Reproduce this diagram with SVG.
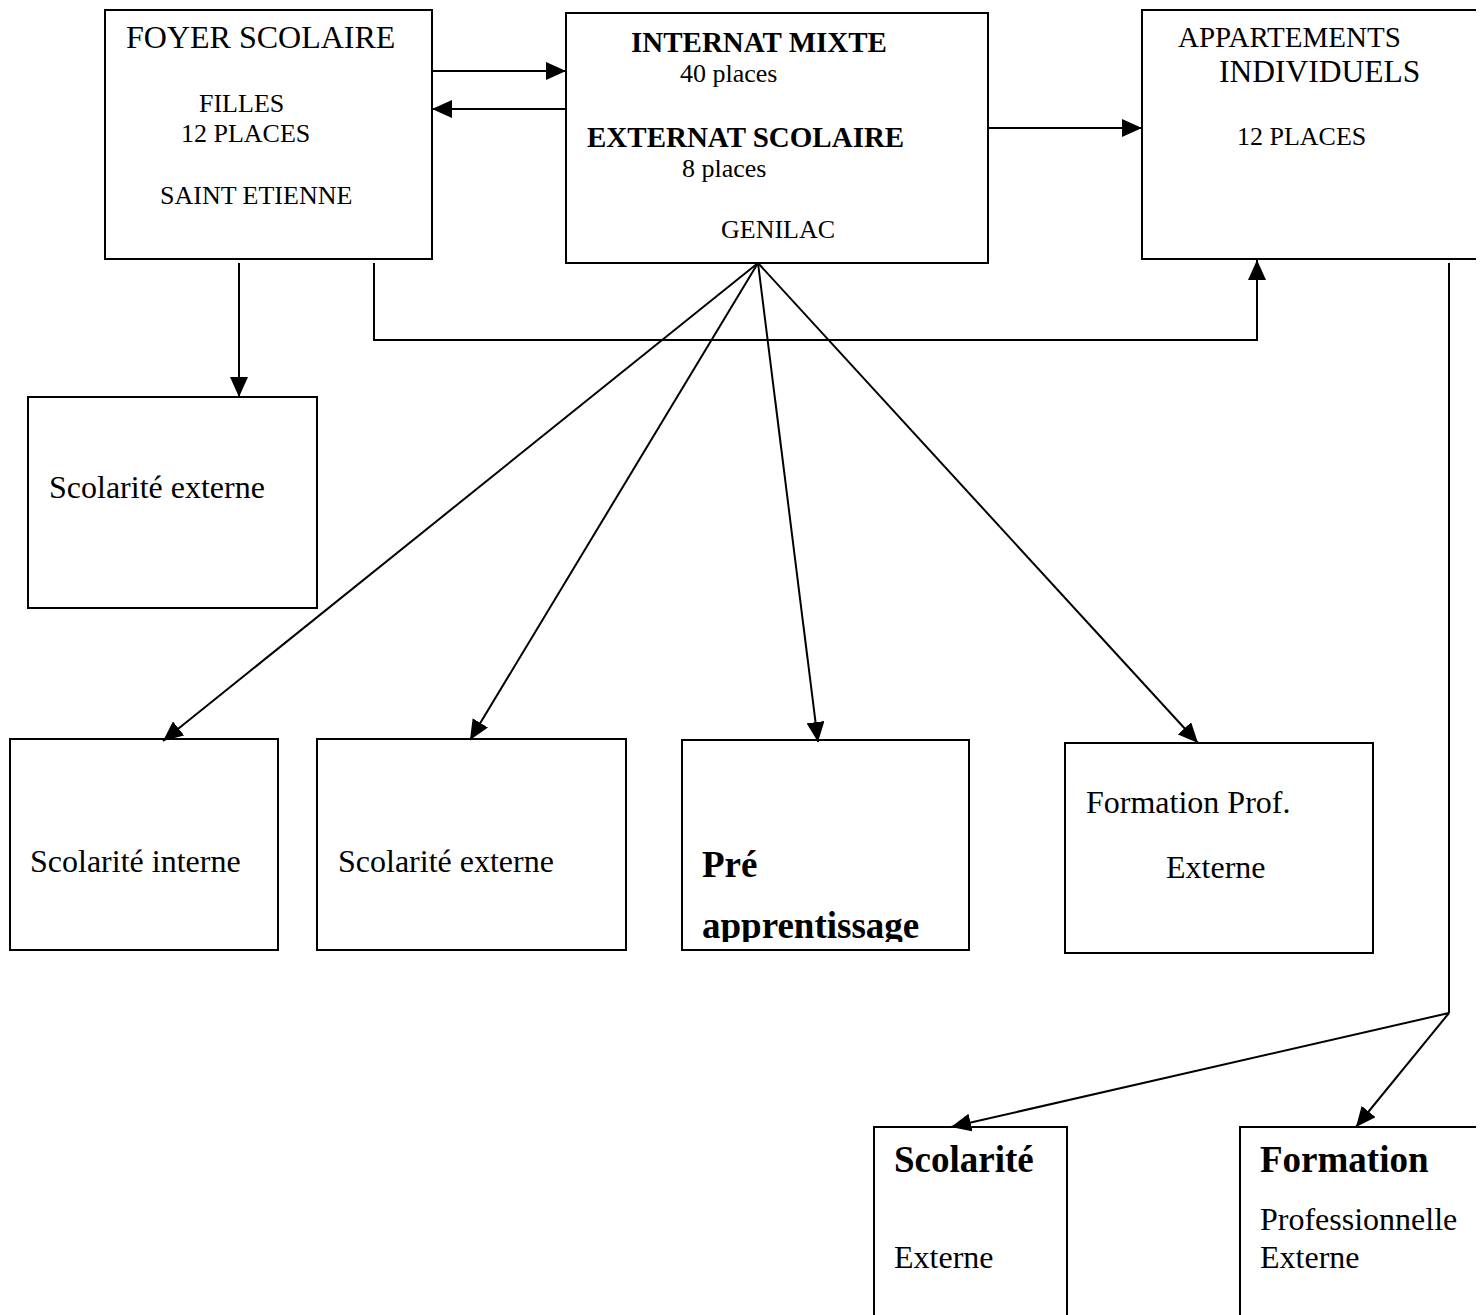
<svg xmlns="http://www.w3.org/2000/svg" width="1484" height="1315" viewBox="0 0 1484 1315">
<style>
.box{fill:#fff;stroke:#000;stroke-width:2}
.edge{fill:none;stroke:#000;stroke-width:2}
text{font-family:"Liberation Serif","Times New Roman",serif;fill:#000}
.s26{font-size:26px}
.s32{font-size:32px}
.b29{font-size:29px;font-weight:bold}
.b37{font-size:37px;font-weight:bold}
</style>
<defs>
<marker id="arr" markerUnits="userSpaceOnUse" viewBox="0 0 20 18" refX="20" refY="9" markerWidth="20" markerHeight="18" orient="auto">
<path d="M0,0 L20,9 L0,18 z" fill="#000"/>
</marker>
<clipPath id="clipPre"><rect x="682" y="740" width="287" height="202"/></clipPath>
</defs>
<rect width="1484" height="1315" fill="#fff"/>

<g id="foyer">
<rect class="box" x="105" y="10" width="327" height="249"/>
<text class="s32" x="126" y="48">FOYER SCOLAIRE</text>
<text class="s26" x="199" y="112">FILLES</text>
<text class="s26" x="181" y="142">12 PLACES</text>
<text class="s26" x="160" y="204">SAINT ETIENNE</text>
</g>

<g id="internat">
<rect class="box" x="566" y="13" width="422" height="250"/>
<text class="b29" x="631" y="52">INTERNAT MIXTE</text>
<text class="s26" x="680" y="82">40 places</text>
<text class="b29" x="587" y="147">EXTERNAT SCOLAIRE</text>
<text class="s26" x="682" y="177">8 places</text>
<text class="s26" x="721" y="238">GENILAC</text>
</g>

<g id="appartements">
<path class="edge" d="M1476,10 L1142,10 L1142,259 L1476,259"/>
<text style="font-size:29px" x="1178" y="47">APPARTEMENTS</text>
<text style="font-size:31.5px" x="1219" y="82">INDIVIDUELS</text>
<text class="s26" x="1237" y="145">12 PLACES</text>
</g>

<g id="scol-externe-foyer">
<rect class="box" x="28" y="397" width="289" height="211"/>
<text class="s32" x="49" y="498">Scolarité externe</text>
</g>

<g id="scol-interne">
<rect class="box" x="10" y="739" width="268" height="211"/>
<text class="s32" x="30" y="872">Scolarité interne</text>
</g>

<g id="scol-externe">
<rect class="box" x="317" y="739" width="309" height="211"/>
<text class="s32" x="338" y="872">Scolarité externe</text>
</g>

<g id="pre-apprentissage">
<rect class="box" x="682" y="740" width="287" height="210"/>
<g clip-path="url(#clipPre)">
<text class="b37" x="702" y="877">Pré</text>
<text class="b37" x="702" y="938">apprentissage</text>
</g>
</g>

<g id="formation-prof">
<rect class="box" x="1065" y="743" width="308" height="210"/>
<text class="s32" x="1086" y="813">Formation Prof.</text>
<text class="s32" x="1166" y="878">Externe</text>
</g>

<g id="scolarite-bas">
<path class="edge" d="M874,1320 L874,1127 L1067,1127 L1067,1320"/>
<text class="b37" x="894" y="1172">Scolarité</text>
<text class="s32" x="894" y="1268">Externe</text>
</g>

<g id="formation-bas">
<path class="edge" d="M1240,1320 L1240,1127 L1476,1127"/>
<text class="b37" x="1260" y="1172">Formation</text>
<text class="s32" x="1260" y="1230">Professionnelle</text>
<text class="s32" x="1260" y="1268">Externe</text>
</g>

<g id="connectors">
<line class="edge" x1="432" y1="71" x2="566" y2="71" marker-end="url(#arr)"/>
<line class="edge" x1="566" y1="109" x2="432" y2="109" marker-end="url(#arr)"/>
<line class="edge" x1="988" y1="128" x2="1142" y2="128" marker-end="url(#arr)"/>
<line class="edge" x1="239" y1="263" x2="239" y2="397" marker-end="url(#arr)"/>
<polyline class="edge" points="374,263 374,340 1257,340 1257,260" marker-end="url(#arr)"/>
<line class="edge" x1="758" y1="263" x2="163" y2="741" marker-end="url(#arr)"/>
<line class="edge" x1="758" y1="263" x2="470" y2="740" marker-end="url(#arr)"/>
<line class="edge" x1="758" y1="263" x2="818" y2="742" marker-end="url(#arr)"/>
<line class="edge" x1="758" y1="263" x2="1198" y2="743" marker-end="url(#arr)"/>
<line class="edge" x1="1449" y1="263" x2="1449" y2="1013"/>
<line class="edge" x1="1449" y1="1013" x2="951" y2="1127" marker-end="url(#arr)"/>
<line class="edge" x1="1449" y1="1013" x2="1356" y2="1127" marker-end="url(#arr)"/>
</g>
</svg>
